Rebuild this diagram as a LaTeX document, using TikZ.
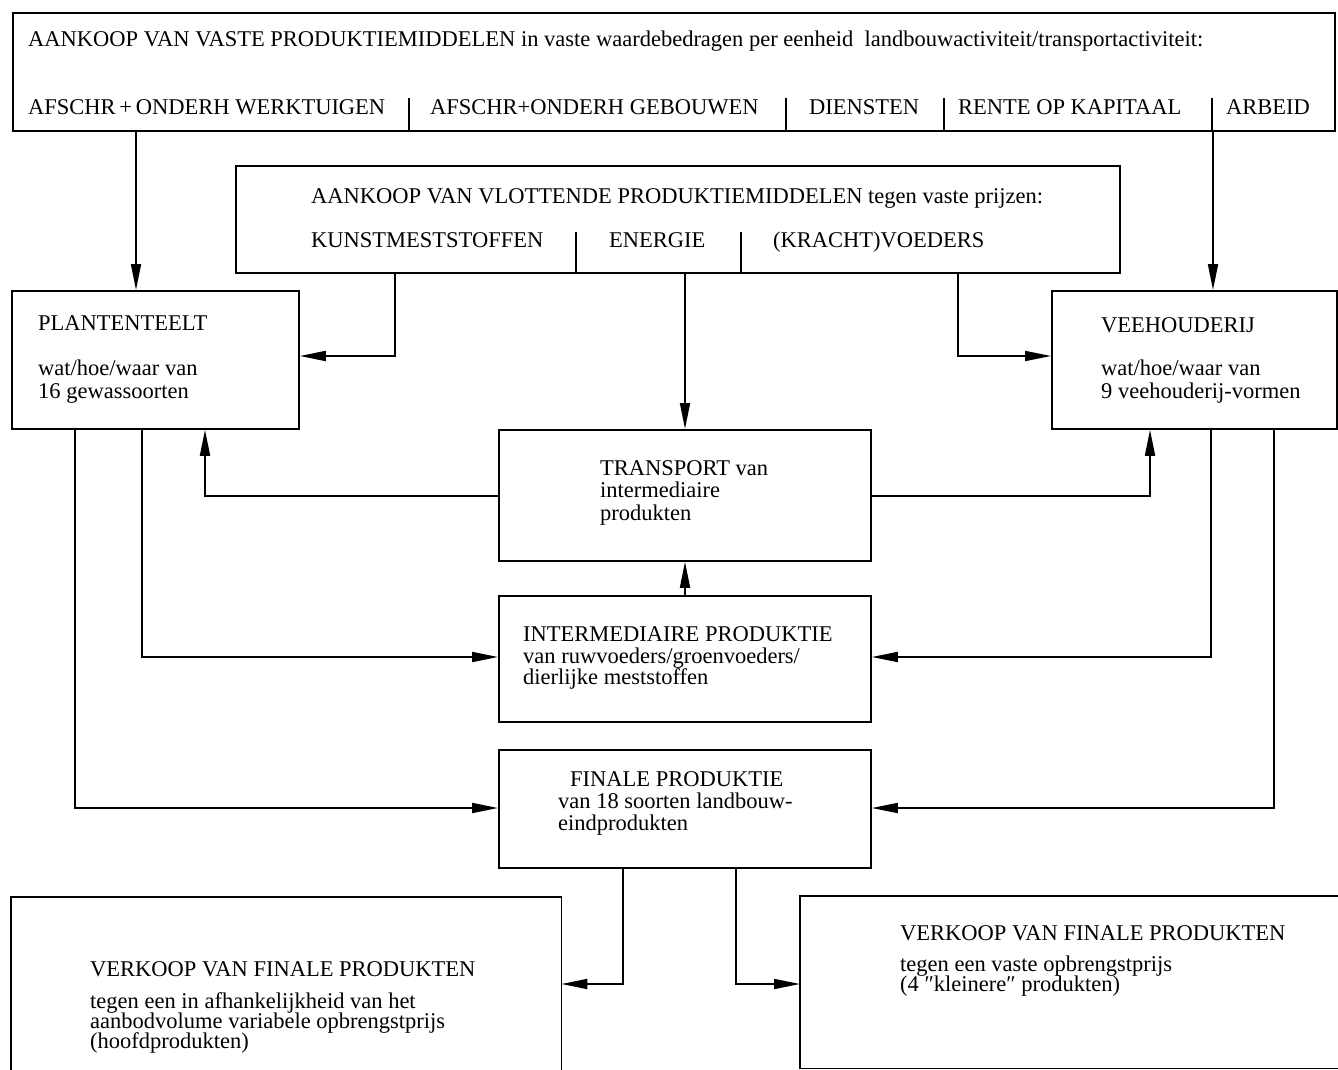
\documentclass[tikz,border=0pt]{standalone}
\usepackage{fontspec}
\setmainfont{Liberation Serif}
\usetikzlibrary{arrows.meta}
\begin{document}
\begin{tikzpicture}[x=1pt,y=-1pt,
  box/.style={draw,line width=1.8pt,rectangle,inner sep=0pt,anchor=north west},
  openbox/.style={rectangle,inner sep=0pt,anchor=north west},
  txt/.style={anchor=base west,inner sep=0pt,font=\fontsize{22.5pt}{21pt}\selectfont},
  divider/.style={line width=1.6pt},
  arr/.style={line width=1.8pt,-{Triangle[length=26pt,width=10pt]}},
  edge/.style={line width=1.8pt}]
\useasboundingbox[fill=white] (0,0) rectangle (1338,1070);

% boxes
\node[box,minimum width=1322pt,minimum height=118pt] (top) at (12,12) {};
\node[box,minimum width=884pt,minimum height=107pt] (vlot) at (235,165) {};
\node[box,minimum width=287pt,minimum height=138pt] (plant) at (11,290) {};
\node[box,minimum width=285pt,minimum height=138pt] (vee) at (1051,290) {};
\node[box,minimum width=372pt,minimum height=131pt] (trans) at (498,429) {};
\node[box,minimum width=372pt,minimum height=126pt] (inter) at (498,595) {};
\node[box,minimum width=372pt,minimum height=118pt] (fin) at (498,749) {};
\node[openbox,minimum width=550pt,minimum height=175pt] (vl) at (11,897) {};
\node[openbox,minimum width=540pt,minimum height=172pt] (vr) at (800,896) {};
\draw[edge] (vl.south west) -- (vl.north west) -- (vl.north east) -- (vl.south east);
\draw[edge] (vr.north east) -- (vr.north west) -- (vr.south west) -- (vr.south east);

% dividers
\draw[divider] (top.south -| 409,0) -- (409,98);
\draw[divider] (top.south -| 786,0) -- (786,98);
\draw[divider] (top.south -| 944,0) -- (944,98);
\draw[divider] (top.south -| 1212,0) -- (1212,98);
\draw[divider] (vlot.south -| 576,0) -- (576,232);
\draw[divider] (vlot.south -| 741,0) -- (741,232);

% texts
\node[txt] (topT) at (28,47) {AANKOOP VAN VASTE PRODUKTIEMIDDELEN in vaste waardebedragen per eenheid\ \ landbouwactiviteit/transportactiviteit:};
\node[txt] (topA) at (28,115) {AFSCHR\,+\,ONDERH WERKTUIGEN};
\node[txt] (topB) at (430,115) {AFSCHR+ONDERH GEBOUWEN};
\node[txt] (topC) at (809,115) {DIENSTEN};
\node[txt] (topD) at (958,115) {RENTE OP KAPITAAL};
\node[txt] (topE) at (1226,115) {ARBEID};

\node[txt] (vlotT) at (311,203) {AANKOOP VAN VLOTTENDE PRODUKTIEMIDDELEN tegen vaste prijzen:};
\node[txt] (vlotA) at (311,247) {KUNSTMESTSTOFFEN};
\node[txt] (vlotB) at (609,247) {ENERGIE};
\node[txt] (vlotC) at (773,247) {(KRACHT)VOEDERS};

\node[txt] (plantA) at (38,330) {PLANTENTEELT};
\node[txt] (plantB) at (38,375) {wat/hoe/waar van};
\node[txt] (plantC) at (38,398) {16 gewassoorten};

\node[txt] (veeA) at (1101,332) {VEEHOUDERIJ};
\node[txt] (veeB) at (1101,375) {wat/hoe/waar van};
\node[txt] (veeC) at (1101,398) {9 veehouderij-vormen};

\node[txt] (transA) at (600,475) {TRANSPORT van};
\node[txt] (transB) at (600,497) {intermediaire};
\node[txt] (transC) at (600,520) {produkten};

\node[txt] (interA) at (523,641) {INTERMEDIAIRE PRODUKTIE};
\node[txt] (interB) at (523,663) {van ruwvoeders/groenvoeders/};
\node[txt] (interC) at (523,684) {dierlijke meststoffen};

\node[txt] (finA) at (570,786) {FINALE PRODUKTIE};
\node[txt] (finB) at (558,808) {van 18 soorten landbouw-};
\node[txt] (finC) at (558,830) {eindprodukten};

\node[txt] (vlA) at (90,976) {VERKOOP VAN FINALE PRODUKTEN};
\node[txt] (vlB) at (90,1008) {tegen een in afhankelijkheid van het};
\node[txt] (vlC) at (90,1028) {aanbodvolume variabele opbrengstprijs};
\node[txt] (vlD) at (90,1048) {(hoofdprodukten)};

\node[txt] (vrA) at (900,940) {VERKOOP VAN FINALE PRODUKTEN};
\node[txt] (vrB) at (900,971) {tegen een vaste opbrengstprijs};
\node[txt] (vrC) at (900,991) {(4 ″kleinere″ produkten)};

% connectors
\draw[arr] (top.south -| 136,0) -- (plant.north -| 136,0);
\draw[arr] (top.south -| 1213,0) -- (vee.north -| 1213,0);
\draw[arr] (vlot.south -| 395,0) |- (plant.east |- 0,356);
\draw[arr] (vlot.south -| 685,0) -- (trans.north -| 685,0);
\draw[arr] (vlot.south -| 958,0) |- (vee.west |- 0,356);
\draw[arr] (trans.west |- 0,496) -| (plant.south -| 205,0);
\draw[arr] (trans.east |- 0,496) -| (vee.south -| 1150,0);
\draw[arr] (inter.north -| 685,0) -- (trans.south -| 685,0);
\draw[arr] (plant.south -| 142,0) |- (inter.west |- 0,657);
\draw[arr] (vee.south -| 1211,0) |- (inter.east |- 0,657);
\draw[arr] (plant.south -| 75,0) |- (fin.west |- 0,808);
\draw[arr] (vee.south -| 1274,0) |- (fin.east |- 0,808);
\draw[arr] (fin.south -| 623,0) |- (vl.east |- 0,984);
\draw[arr] (fin.south -| 736,0) |- (vr.west |- 0,984);
\end{tikzpicture}
\end{document}
